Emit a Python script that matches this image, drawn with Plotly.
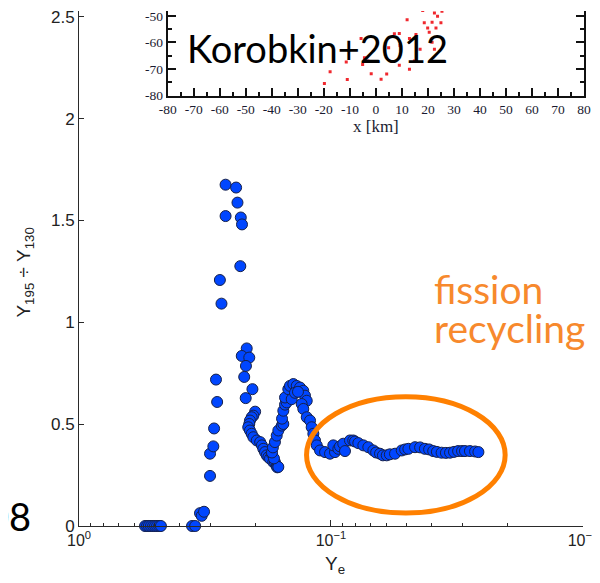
import plotly.graph_objects as go

# ---------------- data ----------------
ye = [0.547, 0.537, 0.528, 0.518, 0.508, 0.499, 0.490, 0.481, 0.473, 0.356, 0.346,
      0.331, 0.326, 0.319, 0.302, 0.302, 0.293, 0.291, 0.286, 0.283, 0.276, 0.272,
      0.262, 0.262, 0.238, 0.235, 0.228, 0.2255, 0.229, 0.216, 0.226, 0.211, 0.2175,
      0.221, 0.205, 0.218, 0.200, 0.2033, 0.2064, 0.2097, 0.211, 0.213, 0.2097, 0.2064,
      0.2033, 0.197, 0.191, 0.188, 0.1856, 0.1828, 0.180, 0.1772, 0.1746, 0.1718, 0.1694,
      0.1669, 0.1642, 0.1633, 0.1618, 0.1684, 0.1715, 0.170, 0.1669, 0.1642, 0.1618,
      0.1568, 0.1546, 0.1564, 0.1546, 0.1522, 0.1499, 0.1522, 0.1477, 0.1455, 0.1411,
      0.1368, 0.1327, 0.1288, 0.1268, 0.1248, 0.1432, 0.139, 0.1352, 0.1307, 0.1288,
      0.1248, 0.1211, 0.1193, 0.1175, 0.1157, 0.1139, 0.1105, 0.1056, 0.1009, 0.0964,
      0.0979, 0.0935, 0.0921, 0.0894, 0.0880, 0.0841, 0.0816, 0.0803, 0.0779, 0.0744,
      0.0711, 0.0679, 0.0662, 0.0639, 0.0622, 0.0601, 0.0584, 0.0557, 0.0524, 0.0508,
      0.0493, 0.0464, 0.0443, 0.0424, 0.0408, 0.0393, 0.0380, 0.0364, 0.0350, 0.0337,
      0.0325, 0.0313, 0.0302, 0.0294, 0.0281, 0.0268, 0.0260]
ratio = [0, 0, 0, 0, 0, 0, 0, 0, 0, 0, 0,
         0.063, 0.050, 0.070, 0.246, 0.355, 0.391, 0.479, 0.719, 0.609, 1.208, 1.092,
         1.522, 1.676, 1.662, 1.588, 1.515, 1.481, 1.276, 0.872, 0.835, 0.827, 0.786,
         0.732, 0.672, 0.628, 0.5615, 0.542, 0.534, 0.518, 0.501, 0.485, 0.469, 0.453,
         0.436, 0.420, 0.412, 0.396, 0.379, 0.363, 0.347, 0.338, 0.331, 0.355, 0.314,
         0.314, 0.293, 0.288, 0.290, 0.332, 0.361, 0.386, 0.412, 0.444, 0.469,
         0.493, 0.501, 0.527, 0.566, 0.596, 0.607, 0.631, 0.672, 0.688, 0.697,
         0.688, 0.680, 0.664, 0.640, 0.615, 0.623, 0.654, 0.659, 0.599, 0.575,
         0.534, 0.518, 0.485, 0.453, 0.420, 0.396, 0.371, 0.363, 0.355, 0.363,
         0.396, 0.379, 0.391, 0.404, 0.368, 0.420, 0.420, 0.415, 0.407, 0.396,
         0.387, 0.371, 0.361, 0.355, 0.347, 0.347, 0.352, 0.355, 0.371, 0.376,
         0.379, 0.387, 0.386, 0.379, 0.376, 0.368, 0.364, 0.360, 0.359, 0.360,
         0.364, 0.368, 0.368, 0.368, 0.368, 0.366, 0.363]

# inset (Korobkin+2012) red points, km
inset_x = [-19.8, -17.6, -11.4, -11.0, -5.7, -4.4, -5.1, -3.1, -1.8, 2.0, 4.15, 4.9,
           7.1, 9.0, 9.3, 9.0, 12.9, 14.8, 12.9, 17.0, 15.4, 12.0, 12.9, 14.8, 18.0,
           19.3, 19.9, 18.6, 19.9, 20.5, 21.6, 23.1, 22.5, 23.7, 25.0, 25.4, 25.6,
           22.8, 22.5, 21.6]
inset_y = [-75.5, -71.0, -67.4, -74.0, -58.5, -65.75, -68.3, -67.0, -71.75, -73.9,
           -71.9, -62.0, -56.75, -56.6, -61.1, -68.6, -70.1, -67.0, -58.5, -62.6,
           -57.0, -51.4, -47.6, -46.4, -47.9, -47.6, -47.4, -52.6, -54.5, -56.1,
           -52.4, -54.5, -48.9, -50.1, -52.6, -48.2, -45.8, -45.8, -62.6, -59.9]

x_major_vals = [1, 0.1, 0.01]
x_major_text = ['10<sup>0</sup>', '10<sup>\u22121</sup>', '10<sup>\u22122</sup>']
x_minor_vals = [0.9, 0.8, 0.7, 0.6, 0.5, 0.4, 0.3, 0.2,
                0.09, 0.08, 0.07, 0.06, 0.05, 0.04, 0.03, 0.02]
y_ticks = [0, 0.5, 1, 1.5, 2, 2.5]

inset_xt = list(range(-80, 81, 10))
inset_xt_text = [str(v) for v in inset_xt]
inset_yt = [-80, -70, -60, -50]
inset_yt_text = [str(v) for v in inset_yt]

AX = '#2a2a2a'
ORANGE = '#FF8000'
ORANGE_T = '#F7892D'

fig = go.Figure()
fig.add_trace(go.Scatter(
    x=ye, y=ratio, mode='markers', cliponaxis=False,
    marker=dict(size=11, color='#0046FF', line=dict(color='#15204a', width=1)),
    xaxis='x', yaxis='y', hoverinfo='skip'))
fig.add_trace(go.Scatter(
    x=inset_x, y=inset_y, mode='markers',
    marker=dict(size=3, color='#F0282E', symbol='square'),
    xaxis='x2', yaxis='y2', hoverinfo='skip'))
fig.add_trace(go.Scatter(x=[], y=[], xaxis='x2', yaxis='y3', hoverinfo='skip'))

tick_font = dict(family='Liberation Sans, Arial', size=17, color='#222')
serif = dict(family='Liberation Serif, Times New Roman', size=13.5, color='#1a1a30')

fig.update_layout(
    width=592, height=575,
    margin=dict(l=71, r=14, t=0, b=57),
    paper_bgcolor='white', plot_bgcolor='white',
    showlegend=False,
    xaxis=dict(type='log', range=[0, -2], domain=[0, 0.996], anchor='y',
               showline=True, linecolor=AX, linewidth=1, showgrid=False, zeroline=False,
               ticks='inside', ticklen=6, tickcolor=AX, tickwidth=1,
               tickmode='array', tickvals=x_major_vals, ticktext=x_major_text,
               ticklabeloverflow='allow',
               tickfont=dict(family='Liberation Sans, Arial', size=16, color='#222'),
               minor=dict(ticks='inside', ticklen=3, tickcolor=AX, tickwidth=1,
                          tickmode='array', tickvals=x_minor_vals, showgrid=False)),
    yaxis=dict(range=[0, 2.529], domain=[0, 1], anchor='x',
               showline=True, linecolor=AX, linewidth=1, showgrid=False, zeroline=False,
               ticks='inside', ticklen=5, tickcolor=AX, tickwidth=1,
               ticklabeloverflow='allow',
               tickmode='array', tickvals=y_ticks, tickfont=tick_font),
    xaxis2=dict(domain=[0.1755, 0.998], anchor='y2', range=[-80, 80],
                showline=True, linecolor='#111', linewidth=2, showgrid=False, zeroline=False,
                ticks='inside', ticklen=8, tickcolor='#111', tickwidth=1.5,
                tickmode='array', tickvals=inset_xt, ticktext=inset_xt_text,
                ticklabeloverflow='allow',
                tickfont=serif,
                minor=dict(ticks='inside', ticklen=4, tickcolor='#111', tickwidth=1.5, dtick=5, showgrid=False),
                title=dict(text='x [km]', font=dict(family='Liberation Serif, Times New Roman', size=17, color='#1a1a30'), standoff=2)),
    yaxis2=dict(domain=[0.8359, 1], anchor='x2', range=[-80, -48.13],
                showline=True, linecolor='#111', linewidth=2, showgrid=False, zeroline=False,
                ticks='inside', ticklen=8, tickcolor='#111', tickwidth=1.5,
                tickmode='array', tickvals=inset_yt, ticktext=inset_yt_text,
                ticklabeloverflow='allow',
                tickfont=serif,
                minor=dict(ticks='inside', ticklen=4, tickcolor='#111', tickwidth=1.5, dtick=5, showgrid=False)),
    yaxis3=dict(overlaying='y2', anchor='x2', side='right', range=[-80, -48.13],
                showline=True, linecolor='#111', linewidth=2, showgrid=False, zeroline=False,
                ticks='inside', ticklen=8, tickcolor='#111', tickwidth=1.5,
                tickmode='array', tickvals=inset_yt, showticklabels=False,
                minor=dict(ticks='inside', ticklen=4, tickcolor='#111', tickwidth=1.5, dtick=5, showgrid=False)),
)

# orange ellipse around the fission-recycling plateau (paper coordinates)
fig.add_shape(type='circle', xref='paper', yref='paper',
              x0=0.4497, x1=0.8422, y0=0.0251, y1=0.2510,
              line=dict(color=ORANGE, width=5))

big = 'Lato, Noto Sans, sans-serif'
fig.add_annotation(text='Korobkin+2012', xref='paper', yref='paper', x=0.209, y=0.9274,
                   xanchor='left', yanchor='middle', showarrow=False,
                   font=dict(family=big, size=38, color='#000'))
fig.add_annotation(text='fission', xref='paper', yref='paper', x=0.698, y=0.4595,
                   xanchor='left', yanchor='middle', showarrow=False,
                   font=dict(family=big, size=39, color=ORANGE_T))
fig.add_annotation(text='recycling', xref='paper', yref='paper', x=0.698, y=0.3842,
                   xanchor='left', yanchor='middle', showarrow=False,
                   font=dict(family=big, size=39, color=ORANGE_T))
fig.add_annotation(text='08', xref='paper', yref='paper', x=-0.0907, y=0.020,
                   xanchor='right', yanchor='middle', showarrow=False,
                   font=dict(family=big, size=38, color='#000'))
fig.add_annotation(text='Y<sub>195</sub> \u00f7 Y<sub>130</sub>', xref='paper', yref='paper',
                   x=-0.1065, y=0.4923, textangle=-90, showarrow=False,
                   xanchor='center', yanchor='middle',
                   font=dict(family='Liberation Sans, Arial', size=19, color='#222'))
fig.add_annotation(text='Y<sub>e</sub>', xref='paper', yref='paper',
                   x=0.505, y=-0.0483, showarrow=False, xanchor='center', yanchor='top',
                   font=dict(family='Liberation Sans, Arial', size=19, color='#222'))

fig.write_html('out.html')
